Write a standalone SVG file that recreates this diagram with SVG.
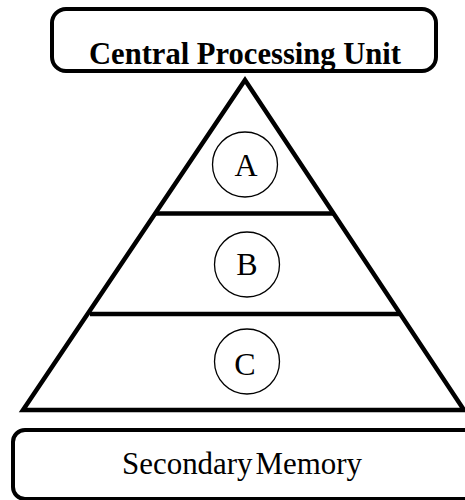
<svg xmlns="http://www.w3.org/2000/svg" width="465" height="500" viewBox="0 0 465 500">
  <style>
    .box { fill: #ffffff; stroke: #000000; stroke-width: 4; }
    .tri { fill: none; stroke: #000000; stroke-width: 4.5; stroke-linejoin: miter; }
    .div { stroke: #000000; stroke-width: 4.5; }
    .ring { fill: #ffffff; stroke: #000000; stroke-width: 1.3; }
    .lbl { font-family: "Liberation Serif", "Times New Roman", serif; font-size: 32px; fill: #000000; text-anchor: middle; }
    .bold { font-weight: bold; }
  </style>
  <rect width="465" height="500" fill="#ffffff"/>
  <g id="cpu">
    <rect class="box" x="52" y="9" width="384" height="62" rx="14" ry="14"/>
    <text class="lbl bold" x="245" y="64" font-size="34" textLength="312" lengthAdjust="spacingAndGlyphs">Central Processing Unit</text>
  </g>
  <g id="pyramid">
    <polygon class="tri" points="245,80 23,410 464,410"/>
    <line class="div" x1="156" y1="213.5" x2="334" y2="213.5"/>
    <line class="div" x1="90" y1="314" x2="399" y2="314"/>
  </g>
  <g id="level-a">
    <circle class="ring" cx="245" cy="164.5" r="32.5"/>
    <text class="lbl" x="246" y="175.5">A</text>
  </g>
  <g id="level-b">
    <circle class="ring" cx="247" cy="264.5" r="32.5"/>
    <text class="lbl" x="247" y="275">B</text>
  </g>
  <g id="level-c">
    <circle class="ring" cx="247" cy="361.5" r="32.5"/>
    <text class="lbl" x="245" y="374.5">C</text>
  </g>
  <g id="secondary-memory">
    <rect class="box" x="13" y="430" width="470" height="69" rx="12" ry="12"/>
    <text class="lbl" x="242" y="474" font-size="33" textLength="240" lengthAdjust="spacingAndGlyphs" word-spacing="-5">Secondary Memory</text>
  </g>
  <g id="connectors"></g>
</svg>
